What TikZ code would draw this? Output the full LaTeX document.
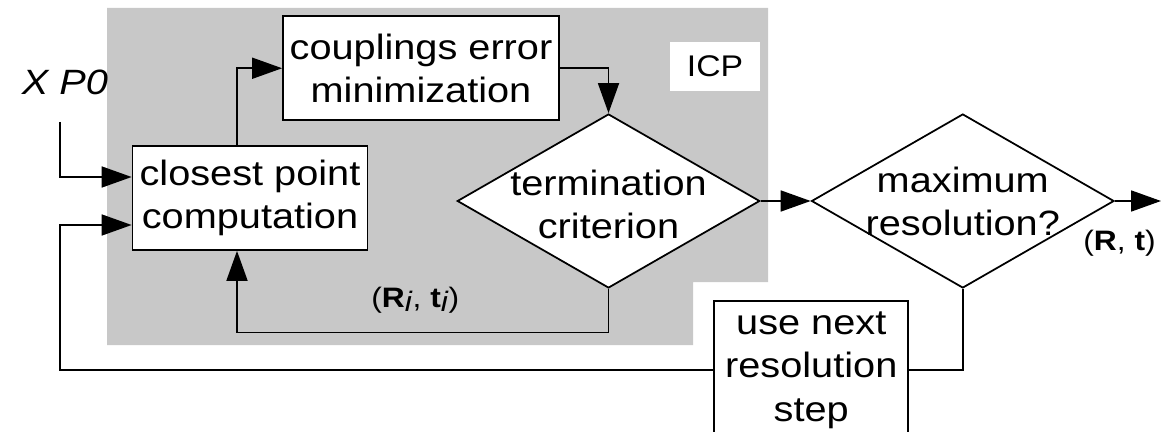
\documentclass[tikz,border=0pt]{standalone}
\usepackage{fontspec}
\setmainfont{Liberation Sans}[FakeStretch=1.13]
\usetikzlibrary{positioning, arrows.meta, shapes.geometric}
\definecolor{icpgray}{RGB}{200,200,200}

\begin{document}
\begin{tikzpicture}[
      auto,
      % rectangular boxes
      block/.style={rectangle, draw, line width=1pt, fill=white, align=center, inner sep=0pt, minimum height=2.08cm, font=\fontsize{20}{24.5}\selectfont},
      % decision diamonds (text is set separately)
      decision/.style={diamond, draw, line width=1pt, fill=white, inner sep=0pt, minimum width=6.05cm, minimum height=3.48cm},
      dtext/.style={align=center, font=\fontsize{20}{24.5}\selectfont},
      % arrows and plain connectors
      line/.style={draw, line width=1pt, -{Triangle[length=0.6cm, width=0.42cm]}},
      conn/.style={draw, line width=1pt},
      lbl/.style={font=\fontsize{16}{19}\selectfont},
      icplabel/.style={fill=white, minimum width=1.8cm, minimum height=0.98cm, font=\fontsize{17}{20}\selectfont}
    ]
    \useasboundingbox (0,0) rectangle (23.22,-8.64);

    % --- gray ICP region ---
    \fill[icpgray] (2.14,-0.16) -- (15.36,-0.16) -- (15.36,-5.64) -- (13.86,-5.64)
                   -- (13.86,-6.9) -- (2.14,-6.9) -- cycle;
    \node[icplabel] (icp) at (14.3,-1.33) {ICP};

    % --- ICP loop ---
    \node[block, minimum width=4.7cm] (closest) at (5.0,-3.96) {closest point\\computation};
    \node[block, minimum width=5.52cm, above=0.48cm of closest, xshift=3.42cm] (couplings) {couplings error\\minimization};
    \node[decision, right=1.76cm of closest, yshift=-0.06cm] (term) {};
    \node[dtext] (termtext) at ([yshift=-0.06cm]term) {termination\\criterion};

    % --- resolution levels ---
    \node[decision, right=1.0cm of term] (maxres) {};
    \node[dtext] (maxtext) at (maxres) {maximum\\resolution?};
    \node[block, minimum width=3.88cm, minimum height=2.76cm, below=0.23cm of maxres, xshift=-3.03cm] (next) {use next\\resolution\\step};

    % --- input and free ends ---
    \node[font=\fontsize{20}{24.5}\selectfont\itshape] (input) at (1.3,-1.64) {X P0};
    \coordinate (inleft) at (1.2,-2.44);
    \coordinate (loopin) at ([yshift=-0.54cm]closest.west);
    \coordinate (out) at (23.22,-4.02);

    % --- arrows ---
    \draw [line] (inleft) |- ([yshift=0.42cm]closest.west);
    \draw [line] ([xshift=-0.26cm]closest.north) |- (couplings.west);
    \draw [line] (couplings.east) -| (term.north);
    \draw [line] (term.east) -- (maxres.west);
    \draw [line] (term.south) -- ++(0,-0.87) -| node[pos=0.26, above=0.25cm, lbl] (rti) {(\textbf{R}\raisebox{-0.25ex}{\textit{i}}, \textbf{t}\raisebox{-0.25ex}{\textit{i}})} ([xshift=-0.26cm]closest.south);
    \draw [line] (maxres.east) -- node[pos=0.1, below=0.45cm, lbl] (rt) {(\textbf{R}, \textbf{t})} (out);
    \draw [conn] (maxres.south) |- (next.east);
    \draw [line] (next.west) -| (inleft |- loopin) -- (loopin);

    \end{tikzpicture}
\end{document}
